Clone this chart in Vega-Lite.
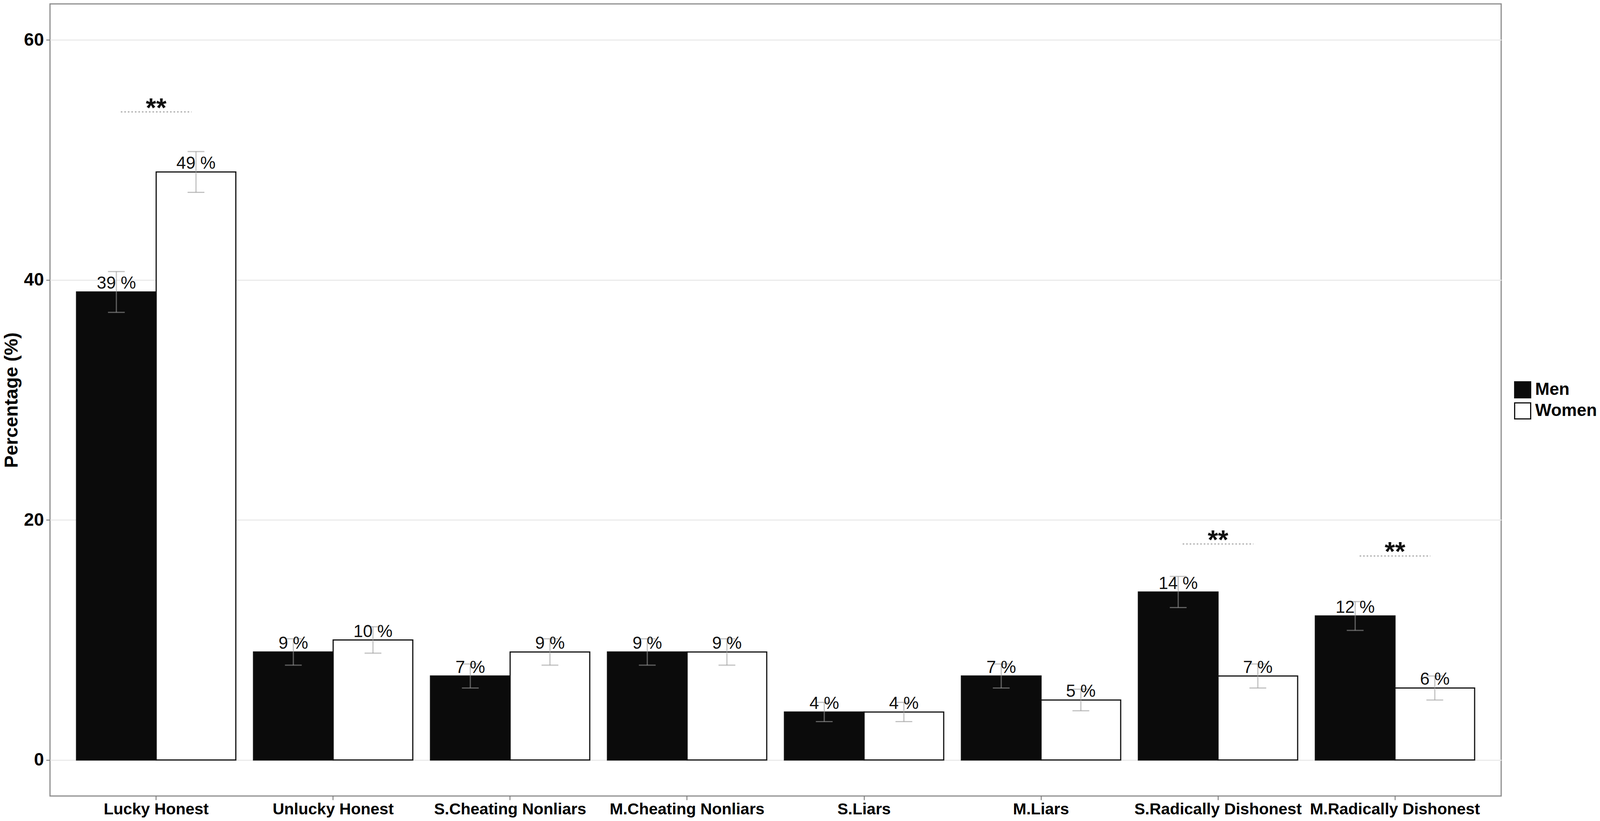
{
  "$schema": "https://vega.github.io/schema/vega-lite/v6.json",
  "autosize": {"type": "none"},
  "padding": {"left": 128, "top": 10, "right": 253, "bottom": 64},
  "width": 3715,
  "height": 2028,
  "background": "white",
  "datasets": {
    "bars": [
      {"group": "Lucky Honest", "sex": "Men", "pct": 39, "lo": 37.3, "hi": 40.7, "label": "39 %"},
      {"group": "Lucky Honest", "sex": "Women", "pct": 49, "lo": 47.3, "hi": 50.7, "label": "49 %"},
      {"group": "Unlucky Honest", "sex": "Men", "pct": 9, "lo": 7.9, "hi": 10.1, "label": "9 %"},
      {"group": "Unlucky Honest", "sex": "Women", "pct": 10, "lo": 8.9, "hi": 11.1, "label": "10 %"},
      {"group": "S.Cheating Nonliars", "sex": "Men", "pct": 7, "lo": 6.0, "hi": 8.0, "label": "7 %"},
      {"group": "S.Cheating Nonliars", "sex": "Women", "pct": 9, "lo": 7.9, "hi": 10.1, "label": "9 %"},
      {"group": "M.Cheating Nonliars", "sex": "Men", "pct": 9, "lo": 7.9, "hi": 10.1, "label": "9 %"},
      {"group": "M.Cheating Nonliars", "sex": "Women", "pct": 9, "lo": 7.9, "hi": 10.1, "label": "9 %"},
      {"group": "S.Liars", "sex": "Men", "pct": 4, "lo": 3.2, "hi": 4.8, "label": "4 %"},
      {"group": "S.Liars", "sex": "Women", "pct": 4, "lo": 3.2, "hi": 4.8, "label": "4 %"},
      {"group": "M.Liars", "sex": "Men", "pct": 7, "lo": 6.0, "hi": 8.0, "label": "7 %"},
      {"group": "M.Liars", "sex": "Women", "pct": 5, "lo": 4.1, "hi": 5.9, "label": "5 %"},
      {"group": "S.Radically Dishonest", "sex": "Men", "pct": 14, "lo": 12.7, "hi": 15.3, "label": "14 %"},
      {"group": "S.Radically Dishonest", "sex": "Women", "pct": 7, "lo": 6.0, "hi": 8.0, "label": "7 %"},
      {"group": "M.Radically Dishonest", "sex": "Men", "pct": 12, "lo": 10.8, "hi": 13.2, "label": "12 %"},
      {"group": "M.Radically Dishonest", "sex": "Women", "pct": 6, "lo": 5.0, "hi": 7.0, "label": "6 %"}
    ],
    "sig": [
      {"group": "Lucky Honest", "y": 54, "mark": "**"},
      {"group": "S.Radically Dishonest", "y": 18, "mark": "**"},
      {"group": "M.Radically Dishonest", "y": 17, "mark": "**"}
    ]
  },
  "encoding": {
    "x": {
      "field": "group",
      "type": "nominal",
      "sort": ["Lucky Honest", "Unlucky Honest", "S.Cheating Nonliars", "M.Cheating Nonliars", "S.Liars", "M.Liars", "S.Radically Dishonest", "M.Radically Dishonest"],
      "scale": {"paddingInner": 0.1, "paddingOuter": 0.15},
      "axis": {
        "title": null,
        "labelAngle": 0,
        "labelLimit": 0,
        "labelFont": "Liberation Sans",
        "labelFontSize": 41,
        "labelFontWeight": "bold",
        "labelColor": "black",
        "labelPadding": 4,
        "tickSize": 10,
        "tickWidth": 2,
        "tickColor": "#666666",
        "domain": false,
        "grid": false
      }
    }
  },
  "layer": [
    {
      "data": {"name": "bars"},
      "mark": {"type": "bar", "stroke": "#111111", "strokeWidth": 3},
      "encoding": {
        "xOffset": {"field": "sex", "type": "nominal", "scale": {"paddingInner": 0, "paddingOuter": 0}},
        "y": {
          "field": "pct",
          "type": "quantitative",
          "scale": {"domain": [-3, 63], "nice": false, "zero": false},
          "axis": {
            "values": [0, 20, 40, 60],
            "title": "Percentage (%)",
            "titleFont": "Liberation Sans",
            "titleFontSize": 48,
            "titleFontWeight": "bold",
            "titleColor": "black",
            "titlePadding": 6,
            "labelFont": "Liberation Sans",
            "labelFontSize": 46,
            "labelFontWeight": "bold",
            "labelColor": "black",
            "labelPadding": 6,
            "tickSize": 10,
            "tickWidth": 2,
            "tickColor": "#666666",
            "domain": false,
            "grid": true,
            "gridColor": "#ebebeb",
            "gridWidth": 3
          }
        },
        "color": {
          "field": "sex",
          "type": "nominal",
          "scale": {"domain": ["Men", "Women"], "range": ["#0b0b0b", "#ffffff"]},
          "legend": {
            "title": null,
            "orient": "none",
            "legendX": 3748,
            "legendY": 966,
            "symbolType": "square",
            "symbolSize": 1681,
            "symbolStrokeColor": "#111111",
            "symbolStrokeWidth": 3,
            "labelFont": "Liberation Sans",
            "labelFontSize": 44,
            "labelFontWeight": "bold",
            "labelColor": "black",
            "labelOffset": 10,
            "rowPadding": 0
          }
        }
      }
    },
    {
      "data": {"name": "bars"},
      "mark": {"type": "rule", "color": "#999999", "opacity": 0.6, "strokeWidth": 3},
      "encoding": {
        "xOffset": {"field": "sex", "type": "nominal"},
        "y": {"field": "lo", "type": "quantitative"},
        "y2": {"field": "hi"}
      }
    },
    {
      "data": {"name": "bars"},
      "transform": [{"fold": ["lo", "hi"], "as": ["end", "val"]}],
      "mark": {"type": "tick", "color": "#999999", "opacity": 0.6, "size": 43, "thickness": 3},
      "encoding": {
        "xOffset": {"field": "sex", "type": "nominal"},
        "y": {"field": "val", "type": "quantitative"}
      }
    },
    {
      "data": {"name": "bars"},
      "mark": {"type": "text", "font": "Liberation Sans", "fontSize": 44, "color": "#111111", "baseline": "alphabetic", "dy": -8},
      "encoding": {
        "xOffset": {"field": "sex", "type": "nominal"},
        "y": {"field": "pct", "type": "quantitative"},
        "text": {"field": "label"}
      }
    },
    {
      "data": {"name": "sig"},
      "mark": {"type": "rule", "color": "#aaaaaa", "strokeWidth": 3, "strokeDash": [4, 5]},
      "encoding": {
        "x": {"field": "group", "type": "nominal", "sort": ["Lucky Honest", "Unlucky Honest", "S.Cheating Nonliars", "M.Cheating Nonliars", "S.Liars", "M.Liars", "S.Radically Dishonest", "M.Radically Dishonest"], "bandPosition": 0.278},
        "x2": {"field": "group", "bandPosition": 0.722},
        "y": {"field": "y", "type": "quantitative"}
      }
    },
    {
      "data": {"name": "sig"},
      "mark": {"type": "text", "font": "Liberation Sans", "fontSize": 68, "fontWeight": "bold", "color": "#111111", "baseline": "alphabetic", "dy": 12},
      "encoding": {
        "y": {"field": "y", "type": "quantitative"},
        "text": {"field": "mark"}
      }
    }
  ],
  "config": {
    "view": {"stroke": "#8c8c8c", "strokeWidth": 3},
    "font": "Liberation Sans"
  }
}
